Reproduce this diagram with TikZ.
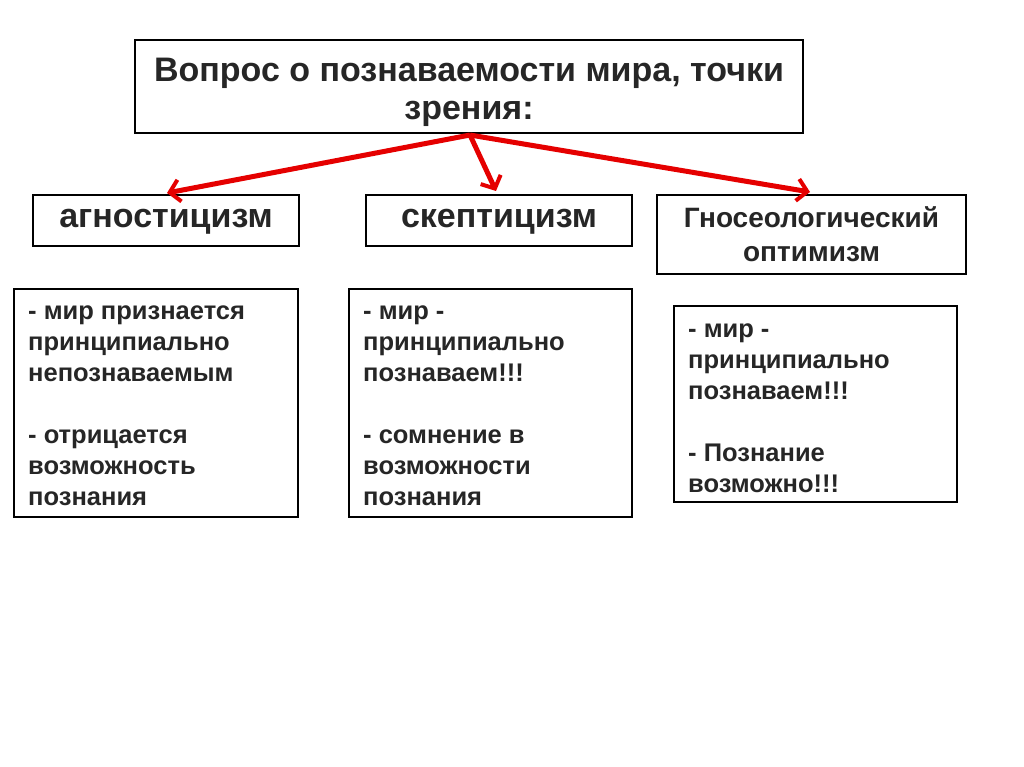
\documentclass[tikz,border=0pt]{standalone}
\usepackage{fontspec}
\setmainfont{Liberation Sans}
\usetikzlibrary{arrows.meta}
\begin{document}
\begin{tikzpicture}[x=1pt,y=-1pt,
  box/.style={draw=black,line width=2.5pt,fill=white,inner sep=0pt},
  lbl/.style={font=\bfseries\fontsize{34}{36}\selectfont,text=black!85,inner sep=0pt},
  arr/.style={draw=red!90!black,line width=5pt,-{Straight Barb[length=10pt,width=22pt,line width=4pt]}},
  txt/.style={font=\bfseries\fontsize{25.5}{31}\selectfont,align=left,anchor=north west,text=black!85,inner sep=0pt}]
\useasboundingbox (0,0) rectangle (1024,767);
\node[box,minimum width=668pt,minimum height=93pt] (top) at (469,86.5) {};
\node[lbl,align=center,font=\bfseries\fontsize{34}{38}\selectfont] (topt) at (469,92) {Вопрос о познаваемости мира, точки\\зрения:};
\node[box,minimum width=266pt,minimum height=51pt] (a) at (166,220.5) {};
\node[lbl] (at) at (166,222) {агностицизм};
\node[box,minimum width=266pt,minimum height=51pt] (s) at (499,220.5) {};
\node[lbl] (st) at (499,222) {скептицизм};
\node[box,minimum width=309pt,minimum height=79pt,font=\bfseries\fontsize{28}{34}\selectfont,align=center,text=black!85] (g) at (811.5,234.5) {Гносеологический\\оптимизм};
\node[box,minimum width=284pt,minimum height=228pt] (d1) at (156,403) {};
\node[box,minimum width=283pt,minimum height=228pt] (d2) at (490.5,403) {};
\node[box,minimum width=283pt,minimum height=196pt] (d3) at (815.5,404) {};
\node[txt] (t1) at (28,306) {- мир признается\\принципиально\\непознаваемым\\[31pt]- отрицается\\возможность\\познания};
\node[txt] (t2) at (363,306) {- мир -\\принципиально\\познаваем!!!\\[31pt]- сомнение в\\возможности\\познания};
\node[txt] (t3) at (688,324) {- мир -\\принципиально\\познаваем!!!\\[31pt]- Познание\\возможно!!!};
\coordinate (o) at (470,135);
\draw[arr] (o) -- (167,193);
\draw[arr] (o) -- (496,191);
\draw[arr] (o) -- (810,192);
\end{tikzpicture}
\end{document}
